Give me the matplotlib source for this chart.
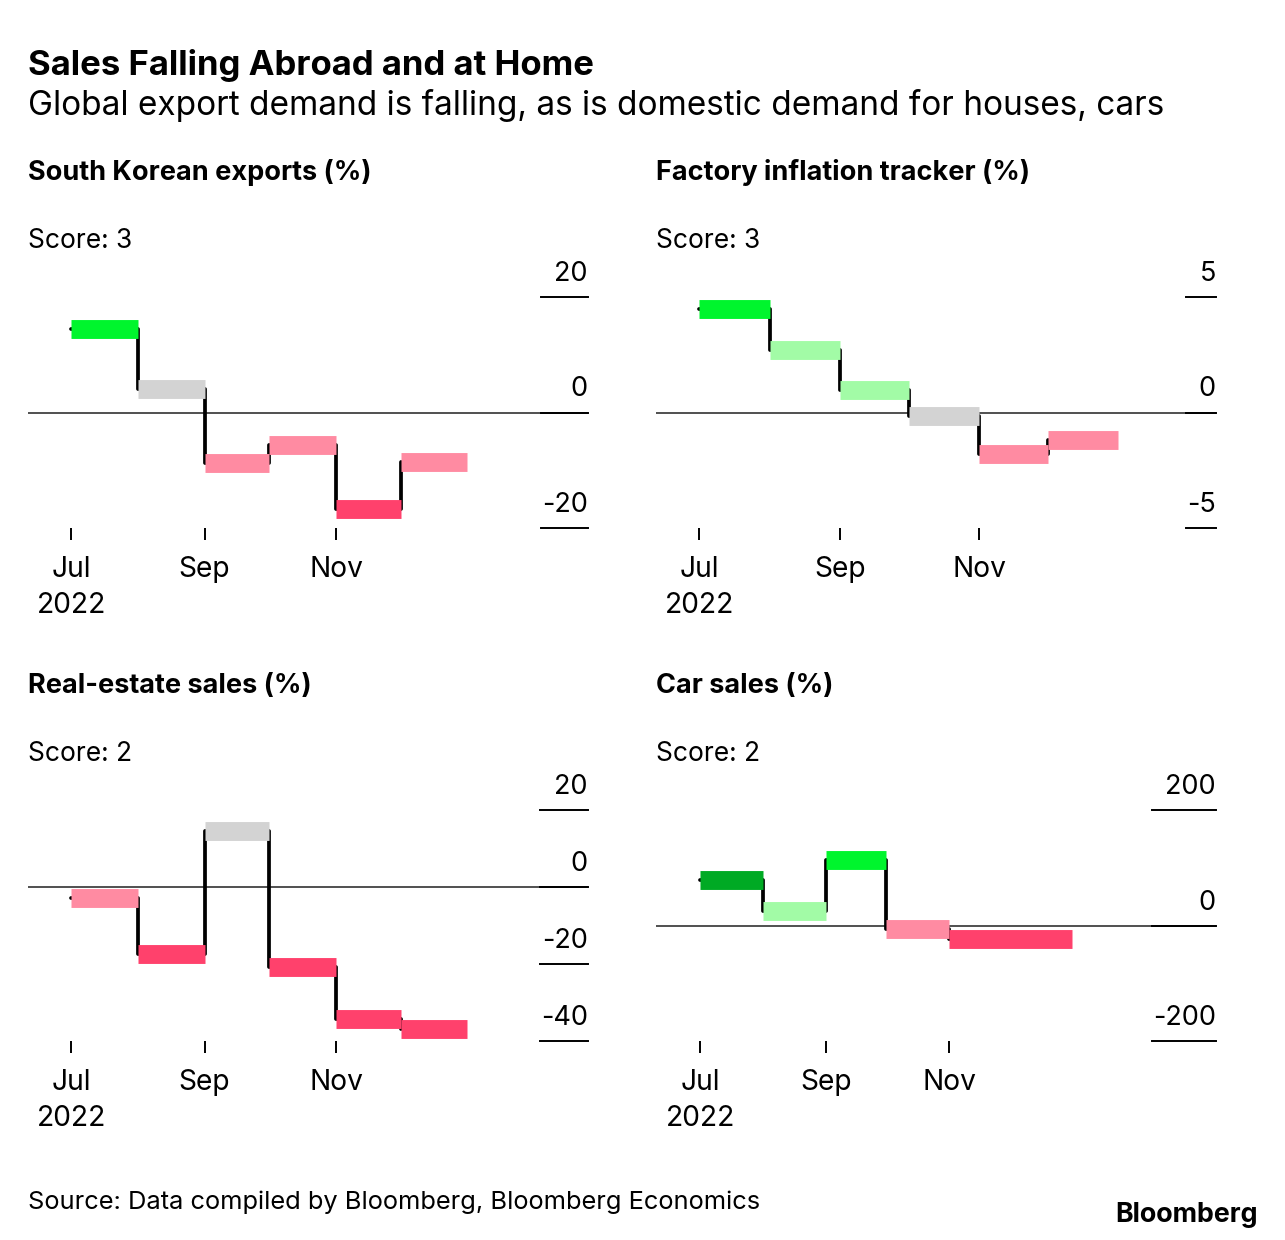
import datetime as dt
import matplotlib
matplotlib.use('Agg')
import matplotlib.pyplot as plt
import matplotlib.transforms as mtransforms

plt.rcParams['font.family'] = ['Inter', 'DejaVu Sans']

W, H = 1285, 1240

# monthly readings, Jul-Dec 2022
months = [dt.date(2022, m, 1) for m in range(7, 13)]
month_ends = months[1:] + [dt.date(2023, 1, 1)]

BRIGHT = '#00f52d'
DARK = '#00aa24'
LIGHT = '#a2fba6'
GRAY = '#d3d3d3'
PINK = '#ff8ba2'
RED = '#ff416c'

exports = [14.4, 4.0, -8.7, -5.6, -16.7, -8.6]
exports_colors = [BRIGHT, GRAY, PINK, PINK, RED, PINK]
exports_ticks = [20, 0, -20]

factory = [4.49, 2.70, 0.98, -0.15, -1.78, -1.18]
factory_colors = [BRIGHT, LIGHT, LIGHT, GRAY, PINK, PINK]
factory_ticks = [5, 0, -5]

real_estate = [-2.9, -17.3, 14.5, -20.9, -34.2, -36.9]
real_estate_colors = [PINK, RED, GRAY, RED, RED, RED]
real_estate_ticks = [20, 0, -20, -40]

cars = [79, 25, 114, -5.5, -23, -23]
cars_colors = [DARK, LIGHT, BRIGHT, PINK, RED, RED]
cars_ticks = [200, 0, -200]

xticks = [dt.date(2022, 7, 1), dt.date(2022, 9, 1), dt.date(2022, 11, 1)]
xtick_labels = ['Jul\n2022', 'Sep', 'Nov']


def px_rect(left, top, right, bottom):
    return [left / W, 1 - bottom / H, (right - left) / W, (bottom - top) / H]


def merge_runs(values, colors):
    # join neighbouring months with the same reading into one bar
    segs = []
    for i, (v, c) in enumerate(zip(values, colors)):
        if segs and segs[-1][2] == v and segs[-1][3] == c:
            segs[-1][1] = month_ends[i]
        else:
            segs.append([months[i], month_ends[i], v, c])
    return segs


def draw_panel(fig, rect, values, colors, ticks, xlim):
    ax = fig.add_axes(rect)
    ax.set_xlim(xlim)
    ax.set_ylim(min(ticks), max(ticks))
    ax.axhline(0, color='#505050', lw=1.4, zorder=1)
    ax.step(months, values, where='post', color='black', lw=2.7, zorder=2,
            solid_capstyle='round')
    segs = merge_runs(values, colors)
    ax.hlines([s[2] for s in segs], [s[0] for s in segs], [s[1] for s in segs],
              colors=[s[3] for s in segs], lw=13.6, zorder=3, capstyle='butt')
    for s in ax.spines.values():
        s.set_visible(False)
    ax.set_yticks([])
    ax.set_xticks(xticks)
    ax.set_xticklabels(xtick_labels, linespacing=1.4)
    ax.tick_params(axis='x', direction='out', length=8.5, width=1.4,
                   pad=12, labelsize=20.3, color='black')

    # y labels sit above short tick lines at the right edge
    trans = ax.get_yaxis_transform()
    label_trans = mtransforms.offset_copy(trans, fig=fig, y=16, units='dots')
    labels = []
    for t in ticks:
        labels.append(ax.text(1.0, t, f'{t}', transform=label_trans,
                              ha='right', va='baseline', fontsize=19.5))
    fig.canvas.draw()
    r = fig.canvas.get_renderer()
    wmax = max(lb.get_window_extent(r).width for lb in labels) + 1
    ax_w = ax.get_window_extent(r).width
    for t in ticks:
        ax.plot([1 - wmax / ax_w, 1.0], [t, t], transform=trans,
                color='black', lw=1.4, clip_on=False, zorder=4)
    return ax


fig = plt.figure(figsize=(W / 100, H / 100), dpi=100)

fig.text(28 / W, 1 - 75 / H, 'Sales Falling Abroad and at Home',
         fontsize=25, fontweight='bold', va='baseline')
fig.text(28 / W, 1 - 115 / H,
         'Global export demand is falling, as is domestic demand for houses, cars',
         fontsize=24, va='baseline')

panels = [
    ('South Korean exports (%)', 'Score: 3', exports, exports_colors, exports_ticks,
     (28, 297, 588, 528), (dt.date(2022, 6, 11), dt.date(2023, 2, 26))),
    ('Factory inflation tracker (%)', 'Score: 3', factory, factory_colors, factory_ticks,
     (656, 297, 1216, 528), (dt.date(2022, 6, 12), dt.date(2023, 2, 13))),
    ('Real-estate sales (%)', 'Score: 2', real_estate, real_estate_colors, real_estate_ticks,
     (28, 810, 588, 1041), (dt.date(2022, 6, 11), dt.date(2023, 2, 26))),
    ('Car sales (%)', 'Score: 2', cars, cars_colors, cars_ticks,
     (656, 810, 1216, 1041), (dt.date(2022, 6, 9), dt.date(2023, 3, 13))),
]

for title, score, vals, cols, ticks, box, xlim in panels:
    left, top, right, bottom = box
    fig.text(left / W, 1 - (top - 117) / H, title, fontsize=19.5,
             fontweight='bold', va='baseline')
    fig.text(left / W, 1 - (top - 49) / H, score, fontsize=19, va='baseline')
    draw_panel(fig, px_rect(left, top, right, bottom), vals, cols, ticks, xlim)

fig.text(28 / W, 1 - 1209 / H,
         'Source: Data compiled by Bloomberg, Bloomberg Economics',
         fontsize=18.3, va='baseline')
fig.text(1258 / W, 1 - 1222 / H, 'Bloomberg', fontsize=19.3,
         fontweight='bold', ha='right', va='baseline')

fig.savefig('out.png', dpi=100)
